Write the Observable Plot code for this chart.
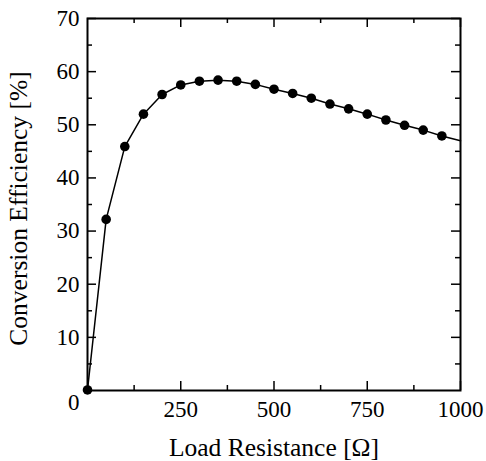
<!DOCTYPE html>
<html>
<head>
<meta charset="utf-8">
<script src="https://cdn.jsdelivr.net/npm/d3@7"></script>
<script src="https://cdn.jsdelivr.net/npm/@observablehq/plot@0.6"></script>
<style>
  html, body { margin: 0; padding: 0; background: #fff; }
  #chart svg, #chart svg text { font-family: "Liberation Serif", "Times New Roman", serif !important; }
</style>
</head>
<body>
<div id="chart"></div>
<script>
// Data
const resistance = [0, 50, 100, 150, 200, 250, 300, 350, 400, 450, 500, 550, 600, 650, 700, 750, 800, 850, 900, 950];
const efficiency = [0.1, 32.2, 45.9, 52.0, 55.7, 57.5, 58.2, 58.4, 58.2, 57.6, 56.7, 55.9, 55.0, 53.9, 53.0, 52.0, 50.9, 49.9, 49.0, 47.9];
// curve continues to the right frame edge
const curveEndX = 1000;
const curveEndY = 47.0;

const xMajor = [250, 500, 750, 1000];
const xMinor = [125, 375, 625, 875];
const yMajor = [10, 20, 30, 40, 50, 60, 70];
const yMinor = [5, 15, 25, 35, 45, 55, 65];
const originLabel = [0];

const xTitle = "Load Resistance [Ω]";
const yTitle = "Conversion Efficiency [%]";

const points = resistance.map((r, i) => ({r, e: efficiency[i]}));
const curve = [...points, {r: curveEndX, e: curveEndY}];

const W = 486, H = 461;
const mL = 87, mR = 26, mT = 18, mB = 71;
const pw = W - mL - mR, ph = H - mT - mB;
const major = 9, minor = 5;
const fs = 23;
const tfs = 25.5;
const fmt = d => String(d);

const chart = Plot.plot({
  width: W,
  height: H,
  marginLeft: mL,
  marginRight: mR,
  marginTop: mT,
  marginBottom: mB,
  style: {fontSize: fs + "px", color: "#000", background: "#fff"},
  x: {domain: [0, 1000], axis: null},
  y: {domain: [0, 70], axis: null},
  marks: [
    // inward ticks on all four sides
    Plot.ruleX(xMajor, {insetTop: ph - major, stroke: "#000", strokeWidth: 1.5}),
    Plot.ruleX(xMinor, {insetTop: ph - minor, stroke: "#000", strokeWidth: 1.5}),
    Plot.ruleX(xMajor, {insetBottom: ph - major, stroke: "#000", strokeWidth: 1.5}),
    Plot.ruleX(xMinor, {insetBottom: ph - minor, stroke: "#000", strokeWidth: 1.5}),
    Plot.ruleY(yMajor, {insetRight: pw - major, stroke: "#000", strokeWidth: 1.5}),
    Plot.ruleY(yMinor, {insetRight: pw - minor, stroke: "#000", strokeWidth: 1.5}),
    Plot.ruleY(yMajor, {insetLeft: pw - major, stroke: "#000", strokeWidth: 1.5}),
    Plot.ruleY(yMinor, {insetLeft: pw - minor, stroke: "#000", strokeWidth: 1.5}),
    // tick labels
    Plot.axisX(xMajor, {anchor: "bottom", tickSize: 0, tickPadding: 10, label: null, fontSize: fs, tickFormat: fmt}),
    Plot.axisY(yMajor, {anchor: "left", tickSize: 0, tickPadding: 8, label: null, fontSize: fs, tickFormat: fmt}),
    Plot.axisY(originLabel, {anchor: "left", tickSize: 0, tickPadding: 8, dy: 12, label: null, fontSize: fs, tickFormat: fmt}),
    // axis titles
    Plot.text([xTitle], {frameAnchor: "bottom", textAnchor: "middle", lineAnchor: "bottom", dy: 65, fontSize: tfs, fill: "#000"}),
    Plot.text([yTitle], {frameAnchor: "left", textAnchor: "middle", lineAnchor: "bottom", rotate: -90, dx: -61, dy: 4, fontSize: tfs, fill: "#000"}),
    // data
    Plot.line(curve, {x: "r", y: "e", stroke: "#000", strokeWidth: 1.5}),
    Plot.dot(points, {x: "r", y: "e", r: 4.8, fill: "#000", stroke: "none"}),
    Plot.frame({stroke: "#000", strokeWidth: 2})
  ]
});
document.getElementById("chart").appendChild(chart);
</script>
</body>
</html>
